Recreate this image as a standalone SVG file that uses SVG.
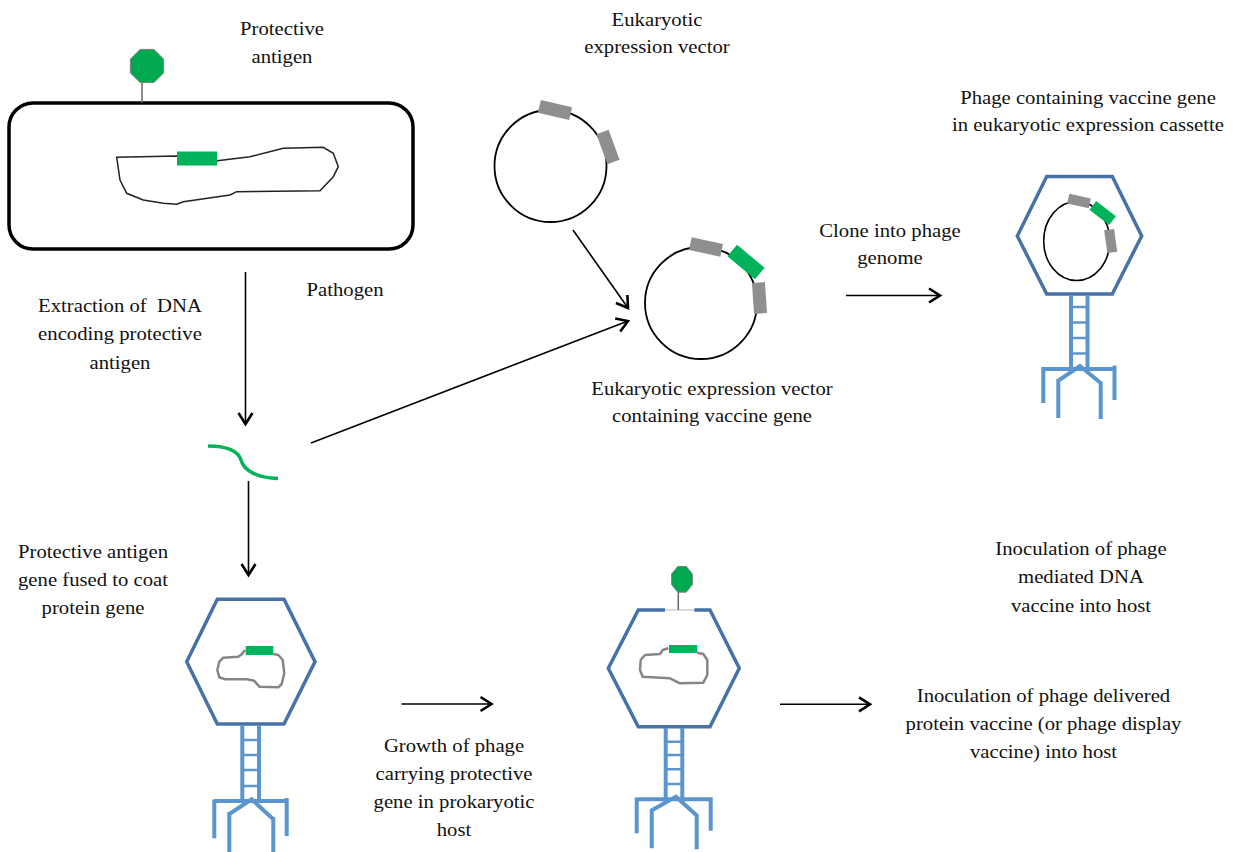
<svg xmlns="http://www.w3.org/2000/svg" width="1236" height="852" viewBox="0 0 1236 852">
<defs>
<style>
.t{font-family:"Liberation Serif","Times New Roman",serif;font-size:19px;fill:#111;text-anchor:middle}
.ln{stroke:#000;stroke-width:1.6;fill:none}
.hex{fill:none;stroke:#4672a8;stroke-width:3.5;stroke-linejoin:miter}
.tail{stroke:#5b95cd;stroke-width:4;fill:none;stroke-linecap:butt}
.rung{stroke:#5b95cd;stroke-width:2.5}
.gray{fill:#8f8f8f}
.grn{fill:#00b35a}
.blob{fill:none;stroke:#868686;stroke-width:2.5;stroke-linejoin:round}
.oct{fill:#00a84f;stroke:#7f7f7f;stroke-width:1}
.plas{fill:none;stroke:#000;stroke-width:1.8}
</style>
<marker id="ah" markerWidth="16" markerHeight="18" refX="13" refY="9" orient="auto" markerUnits="userSpaceOnUse">
<path d="M2,2 L13,9 L2,16" fill="none" stroke="#000" stroke-width="2.6"/>
</marker>
</defs>
<rect width="1236" height="852" fill="#fff"/>

<g id="connectors">
<line class="ln" x1="245.5" y1="272" x2="245.5" y2="424" marker-end="url(#ah)"/>
<line class="ln" x1="248.5" y1="481" x2="248.5" y2="575" marker-end="url(#ah)"/>
<line class="ln" x1="311" y1="443" x2="628" y2="321" marker-end="url(#ah)"/>
<line class="ln" x1="573" y1="230" x2="628" y2="308" marker-end="url(#ah)"/>
<line class="ln" x1="846" y1="295.5" x2="940" y2="295.5" marker-end="url(#ah)"/>
<line class="ln" x1="401.5" y1="704" x2="491.5" y2="704" marker-end="url(#ah)"/>
<line class="ln" x1="780" y1="704.3" x2="870" y2="704.3" marker-end="url(#ah)"/>
</g>

<g id="pathogen">
<rect x="9" y="103" width="404" height="146" rx="24" fill="none" stroke="#000" stroke-width="3.5"/>
<path d="M116.7,157.3 L176.7,156 L217.3,160.7 L250,156.7 L283.3,148.3 L323.3,147.3 L333.3,153.3 L338.3,166.7 L333.3,176.7 L320,190.7 L236.7,191.7 L230,195 L183.3,201.7 L176.7,204.3 L163.3,203.3 L143.3,200 L126.7,193.3 L120,180 Z" fill="none" stroke="#222" stroke-width="1.5"/>
<rect class="grn" x="177" y="151.5" width="40" height="14"/>
<line x1="142" y1="83" x2="142" y2="103" stroke="#666" stroke-width="1.5"/>
<polygon class="oct" transform="translate(147,66)" points="16.6,6.9 6.9,16.6 -6.9,16.6 -16.6,6.9 -16.6,-6.9 -6.9,-16.6 6.9,-16.6 16.6,-6.9"/>
</g>

<g id="dna-fragment">
<path d="M208,446 C228,446 238,451 241,460 C244,472 260,478 278,478.5" fill="none" stroke="#00b35a" stroke-width="3.5"/>
</g>

<g id="vector">
<circle class="plas" cx="550.5" cy="166" r="56"/>
<rect class="gray" x="-16" y="-6.5" width="32" height="13" transform="translate(555,110) rotate(13)"/>
<rect class="gray" x="-16" y="-6.5" width="32" height="13" transform="translate(608,147) rotate(70)"/>
</g>

<g id="vector-vaccine">
<circle class="plas" cx="701" cy="303" r="56"/>
<rect class="gray" x="-16" y="-6.5" width="32" height="13" transform="translate(706,247) rotate(12)"/>
<rect class="grn" x="-18" y="-7.5" width="36" height="15" transform="translate(746,262) rotate(40)"/>
<rect class="gray" x="-15.5" y="-6.5" width="31" height="13" transform="translate(759.5,298) rotate(86)"/>
</g>

<g id="phage-dna">
<polygon class="hex" points="1046.7,176.5 1112.3,176.5 1141.7,236 1112.3,294 1046.7,294 1017.3,236"/>
<ellipse cx="1076.7" cy="241" rx="33" ry="39.5" fill="none" stroke="#000" stroke-width="1.6"/>
<rect class="gray" x="-11" y="-5" width="22" height="10" transform="translate(1079,201) rotate(12)"/>
<rect class="grn" x="-12.5" y="-5.5" width="25" height="11" transform="translate(1102.7,213) rotate(38)"/>
<rect class="gray" x="-11.5" y="-5" width="23" height="10" transform="translate(1110.7,241) rotate(82)"/>
<path class="tail" d="M1071,296 V367 M1087.5,296 V367 M1043.3,369 H1115 M1043.3,367 V403 M1114.5,365.5 V400 M1058.3,380.7 L1080,366 L1101,383.3 M1058.3,379 V418 M1100.7,382 V419"/>
<path class="rung" d="M1071,307 H1087.5 M1071,322.5 H1087.5 M1071,338 H1087.5 M1071,353.5 H1087.5"/>
</g>

<g id="phage-fused">
<polygon class="hex" points="217.3,599.3 284,599.3 315,661.7 284,724 217.3,724 186.7,661.7"/>
<path class="blob" d="M245,650 L241.7,654.3 L238.3,656.7 L223.3,657.7 L219.3,661.7 L217.3,670 L219.3,677.3 L225,679.3 L246.7,679.3 L254,680.7 L259.3,686.7 L278.3,687.3 L281.7,684 L284.3,673.3 L282.7,660 L278.3,655 L273.3,654"/>
<rect class="grn" x="245.7" y="646" width="27.6" height="9"/>
<path class="tail" d="M242.3,726 V802 M259,726 V802 M214.3,801 H287 M214.3,799.5 V838.3 M286.7,798 V836 M229.3,814 L251.7,799.3 L273.3,819.3 M229.3,812 V853 M273.3,817 V853"/>
<path class="rung" d="M242.3,740 H259 M242.3,755 H259 M242.3,770 H259 M242.3,786 H259"/>
</g>

<g id="phage-display">
<path class="hex" d="M694.3,610 L710,610 L739.3,668.3 L710,726.7 L638.3,726.7 L608.3,668.3 L638.3,610 L665,610"/>
<line x1="665" y1="610" x2="694.3" y2="610" stroke="#b8b8b8" stroke-width="1"/>
<line x1="678.3" y1="592" x2="678.3" y2="610" stroke="#666" stroke-width="1.5"/>
<polygon class="oct" transform="translate(682,579.3)" points="10.35,5.32 4.29,12.83 -4.29,12.83 -10.35,5.32 -10.35,-5.32 -4.29,-12.83 4.29,-12.83 10.35,-5.32"/>
<path class="blob" d="M668.3,648.3 L662.7,650 L660,654 L645,655 L640.7,660 L640,670 L642.7,676.7 L670,678.3 L680,683.3 L703.3,682.7 L707.3,675 L707.3,660 L703.3,654 L697.3,652.7"/>
<rect class="grn" x="669" y="645" width="28.3" height="8"/>
<path class="tail" d="M665.7,728 V800 M682.3,728 V800 M636.7,799.3 H710.7 M636.7,797.5 V833.3 M710.7,797.3 V830.7 M651,810.7 L676,796.7 L697.3,816 M651.7,809 V848.3 M696.7,814 V849.3"/>
<path class="rung" d="M665.7,741.7 H682.3 M665.7,755 H682.3 M665.7,769.3 H682.3 M665.7,784 H682.3"/>
</g>

<g id="labels">
<g transform="translate(282,35) scale(1.09,1)"><text class="t"><tspan x="0" y="0">Protective</tspan><tspan x="0" y="28">antigen</tspan></text></g>
<g transform="translate(657,26) scale(1.09,1)"><text class="t"><tspan x="0" y="0">Eukaryotic</tspan><tspan x="0" y="27">expression vector</tspan></text></g>
<g transform="translate(345,296) scale(1.09,1)"><text class="t">Pathogen</text></g>
<g transform="translate(120,312) scale(1.09,1)"><text class="t" xml:space="preserve"><tspan x="0" y="0">Extraction of  DNA</tspan><tspan x="0" y="28.5">encoding protective</tspan><tspan x="0" y="57">antigen</tspan></text></g>
<g transform="translate(890,237) scale(1.09,1)"><text class="t"><tspan x="0" y="0">Clone into phage</tspan><tspan x="0" y="27.5">genome</tspan></text></g>
<g transform="translate(1088,103.5) scale(1.09,1)"><text class="t"><tspan x="0" y="0">Phage containing vaccine gene</tspan><tspan x="0" y="28">in eukaryotic expression cassette</tspan></text></g>
<g transform="translate(712,395) scale(1.09,1)"><text class="t"><tspan x="0" y="0">Eukaryotic expression vector</tspan><tspan x="0" y="27.5">containing vaccine gene</tspan></text></g>
<g transform="translate(93,558) scale(1.09,1)"><text class="t"><tspan x="0" y="0">Protective antigen</tspan><tspan x="0" y="28">gene fused to coat</tspan><tspan x="0" y="56">protein gene</tspan></text></g>
<g transform="translate(1081,555) scale(1.09,1)"><text class="t"><tspan x="0" y="0">Inoculation of phage</tspan><tspan x="0" y="28.5">mediated DNA</tspan><tspan x="0" y="57">vaccine into host</tspan></text></g>
<g transform="translate(1043.5,702) scale(1.09,1)"><text class="t"><tspan x="0" y="0">Inoculation of phage delivered</tspan><tspan x="0" y="28">protein vaccine (or phage display</tspan><tspan x="0" y="56.5">vaccine) into host</tspan></text></g>
<g transform="translate(454,752) scale(1.09,1)"><text class="t"><tspan x="0" y="0">Growth of phage</tspan><tspan x="0" y="28">carrying protective</tspan><tspan x="0" y="56">gene in prokaryotic</tspan><tspan x="0" y="84">host</tspan></text></g>
</g>
</svg>
